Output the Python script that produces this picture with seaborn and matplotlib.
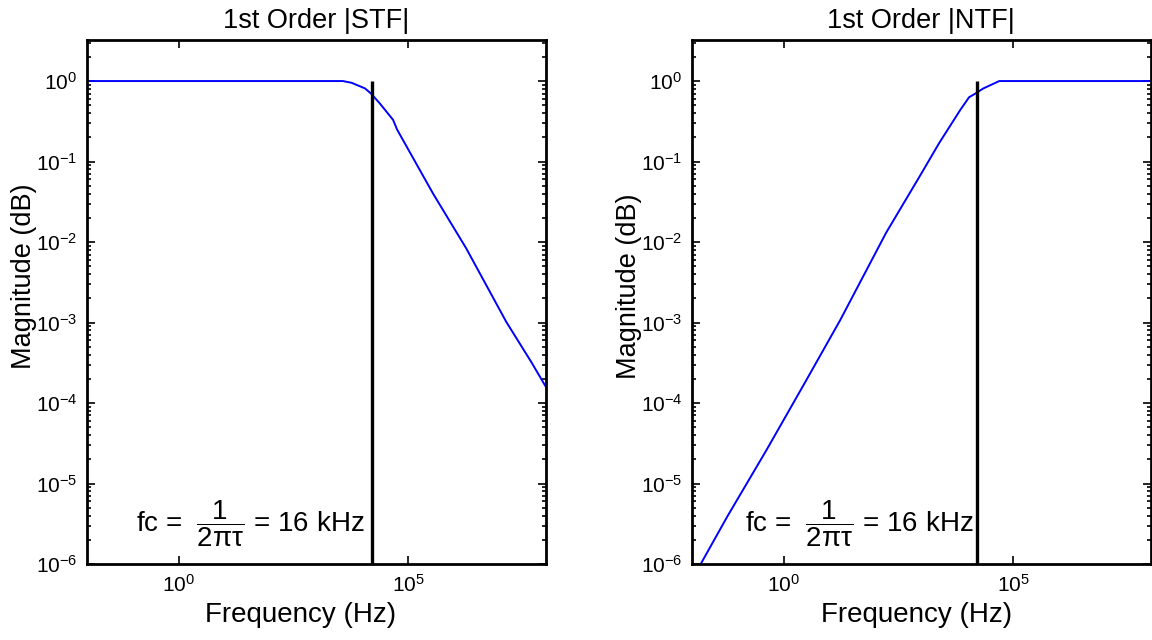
import numpy as np
import pandas as pd
import matplotlib
matplotlib.use("Agg")
import matplotlib.pyplot as plt
import matplotlib.ticker as mticker
import seaborn as sns

# Magnitude responses of a 1st-order loop (frequency in Hz, linear magnitude)
stf_freq = [1e-2, 3.8e3, 5.9e3, 1.15e4, 1.55e4, 2.4e4, 4.7e4, 5.75e4,
            3.5e5, 1.86e6, 1.38e7, 4.9e7, 1.0e8]
stf_mag = [1.0, 1.0, 0.95, 0.81, 0.70, 0.53, 0.33, 0.25,
           0.040, 0.0083, 0.00102, 0.00032, 0.00016]

ntf_freq = [0.0155, 0.059, 0.42, 2.7, 17.0, 170.0, 1.0e3, 2.45e3,
            7.1e3, 1.1e4, 1.45e4, 2.25e4, 5.0e4, 1.0e8]
ntf_mag = [1e-6, 3.9e-6, 2.6e-5, 1.67e-4, 0.00107, 0.013, 0.071, 0.17,
           0.44, 0.63, 0.69, 0.81, 1.0, 1.0]

fc_hz = 16e3
titles = ["1st Order |STF|", "1st Order |NTF|"]
x_ticks = [1e0, 1e5]
y_ticks = [1e-6, 1e-5, 1e-4, 1e-3, 1e-2, 1e-1, 1e0]
x_range = (1e-2, 1e8)
y_range = (1e-6, 10 ** 0.51)

sns.set_theme(style="ticks")
plt.rcParams["font.family"] = ["Liberation Sans", "DejaVu Sans"]
plt.rcParams["mathtext.fontset"] = "custom"
plt.rcParams["mathtext.rm"] = "Liberation Sans"
plt.rcParams["mathtext.it"] = "Liberation Sans"
plt.rcParams["mathtext.bf"] = "Liberation Sans:bold"
for key in ["text.color", "axes.labelcolor", "xtick.color", "ytick.color",
            "axes.edgecolor"]:
    plt.rcParams[key] = "black"

fig = plt.figure(figsize=(11.52, 6.4), dpi=100)
ax_w, ax_h = 458.7 / 1152, 524 / 640
ax_b = 76 / 640
axes = [fig.add_axes([87 / 1152, ax_b, ax_w, ax_h]),
        fig.add_axes([692 / 1152, ax_b, ax_w, ax_h])]

frames = [pd.DataFrame({"freq": stf_freq, "mag": stf_mag}),
          pd.DataFrame({"freq": ntf_freq, "mag": ntf_mag})]
text_x = [0.115, 0.14]
xlabel_pos = [0.465, 0.49]
ylabel_pos = [0.55, 0.53]

for ax, df, title, tx, xl, yl in zip(axes, frames, titles, text_x,
                                     xlabel_pos, ylabel_pos):
    sns.lineplot(data=df, x="freq", y="mag", ax=ax, color="#0000ff",
                 linewidth=1.4, estimator=None, sort=False)
    ax.set_xscale("log")
    ax.set_yscale("log")
    ax.set_xlim(*x_range)
    ax.set_ylim(*y_range)
    ax.vlines(fc_hz, y_range[0], 1.0, color="black", linewidth=2.4)

    ax.xaxis.set_major_locator(mticker.FixedLocator(x_ticks))
    ax.xaxis.set_minor_locator(mticker.NullLocator())
    ax.yaxis.set_major_locator(mticker.FixedLocator(y_ticks))
    ax.yaxis.set_minor_locator(mticker.LogLocator(base=10, subs=np.arange(2, 10)))
    ax.xaxis.set_major_formatter(mticker.LogFormatterSciNotation())
    ax.yaxis.set_major_formatter(mticker.LogFormatterSciNotation())
    ax.yaxis.set_minor_formatter(mticker.NullFormatter())

    ax.tick_params(which="both", direction="in", top=True, right=True,
                   colors="black", labelsize=15, width=1.2)
    ax.tick_params(which="major", length=6, pad=7)
    ax.tick_params(which="minor", length=3)
    for sp in ax.spines.values():
        sp.set_linewidth(2)
        sp.set_color("black")

    ax.set_title(title, fontsize=19.5, pad=9)
    ax.set_xlabel("Frequency (Hz)", fontsize=20, labelpad=0)
    ax.set_ylabel("Magnitude (dB)", fontsize=19.5, labelpad=2)
    ax.xaxis.set_label_coords(xl, -0.072)
    ax.yaxis.set_label_coords(-0.11, yl)
    ax.text(tx, 10 ** -5.5, r"fc =  $\dfrac{1}{2\mathrm{\pi}\mathrm{\tau}}$ = 16 kHz",
            fontsize=20, ha="left", va="center")

fig.savefig("out.png", dpi=100)
